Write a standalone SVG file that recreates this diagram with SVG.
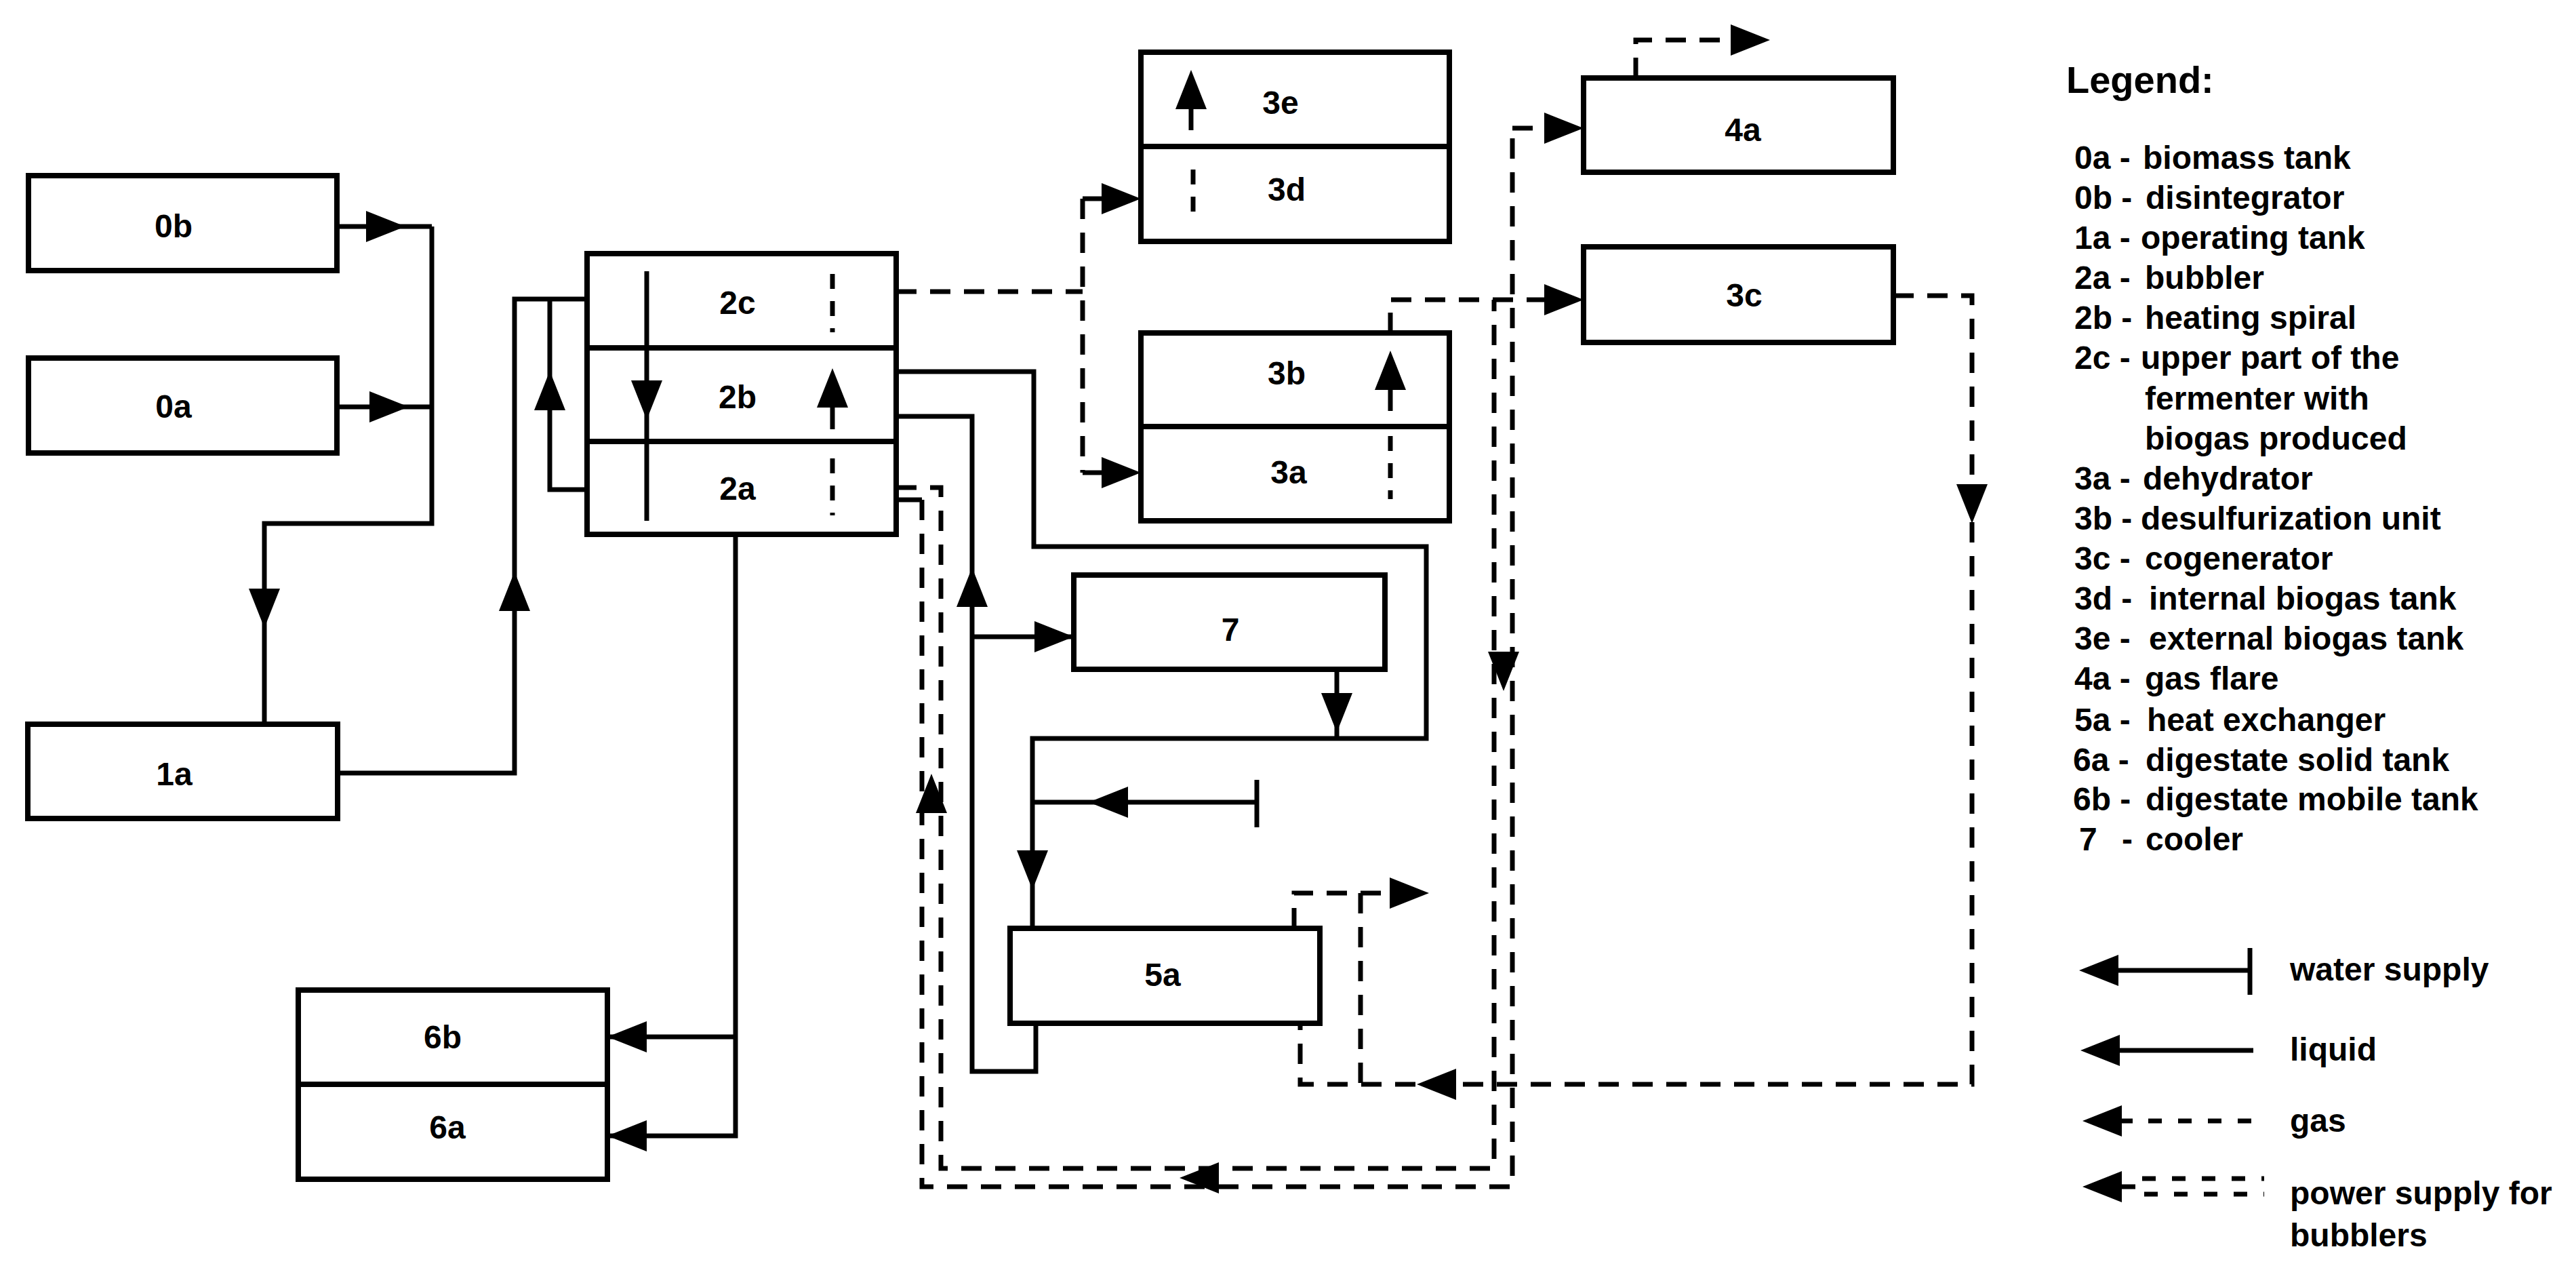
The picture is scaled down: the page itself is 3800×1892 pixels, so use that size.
<svg xmlns="http://www.w3.org/2000/svg" xmlns:xlink="http://www.w3.org/1999/xlink" width="3800" height="1892" viewBox="0 0 3800 1892">
<style>
.box{fill:#fff;stroke:#000;stroke-width:8}
.ln{fill:none;stroke:#000;stroke-width:7}
.gs{fill:none;stroke:#000;stroke-width:7;stroke-dasharray:30 20}
.sd{stroke-dasharray:22 18}
.lg{fill:none;stroke:#000;stroke-width:7;stroke-dasharray:20 24}
.t{font-family:"Liberation Sans",Arial,sans-serif;font-weight:bold;font-size:48px;fill:#000}
.c{text-anchor:middle}
.h{font-size:56px}
</style>
<defs>
<path id="ah" d="M0,0 L-58,-23 L-58,23 Z" fill="#000"/>
</defs>
<rect x="0" y="0" width="3800" height="1892" fill="#fff"/>

<g id="node-0b"><rect class="box" x="42" y="259" width="455" height="140"/><text class="t c" x="256" y="350">0b</text></g>
<g id="node-0a"><rect class="box" x="42" y="528" width="455" height="140"/><text class="t c" x="256" y="616">0a</text></g>
<g id="node-1a"><rect class="box" x="41" y="1068" width="457" height="139"/><text class="t c" x="257" y="1158">1a</text></g>
<g id="node-2c"><rect class="box" x="866" y="374" width="456" height="139"/><text class="t c" x="1088" y="463">2c</text></g>
<g id="node-2b"><rect class="box" x="866" y="513" width="456" height="138"/><text class="t c" x="1088" y="602">2b</text></g>
<g id="node-2a"><rect class="box" x="866" y="651" width="456" height="137"/><text class="t c" x="1088" y="737">2a</text></g>
<g id="node-3e"><rect class="box" x="1683" y="77" width="455" height="139"/><text class="t c" x="1889" y="168">3e</text></g>
<g id="node-3d"><rect class="box" x="1683" y="216" width="455" height="140"/><text class="t c" x="1898" y="296">3d</text></g>
<g id="node-3b"><rect class="box" x="1683" y="491" width="455" height="138"/><text class="t c" x="1898" y="567">3b</text></g>
<g id="node-3a"><rect class="box" x="1683" y="629" width="455" height="139"/><text class="t c" x="1901" y="713">3a</text></g>
<g id="node-4a"><rect class="box" x="2336" y="115" width="457" height="139"/><text class="t c" x="2571" y="208">4a</text></g>
<g id="node-3c"><rect class="box" x="2336" y="364" width="457" height="141"/><text class="t c" x="2573" y="452">3c</text></g>
<g id="node-7"><rect class="box" x="1584" y="848" width="459" height="139"/><text class="t c" x="1815" y="945">7</text></g>
<g id="node-5a"><rect class="box" x="1490" y="1369" width="457" height="140"/><text class="t c" x="1715" y="1454">5a</text></g>
<g id="node-6b"><rect class="box" x="440" y="1460" width="456" height="139"/><text class="t c" x="653" y="1546">6b</text></g>
<g id="node-6a"><rect class="box" x="440" y="1599" width="456" height="140"/><text class="t c" x="660" y="1679">6a</text></g>

<g id="connectors">
  <!-- liquid -->
  <path class="ln" d="M497,334 H637"/>
  <path class="ln" d="M497,600 H637"/>
  <path class="ln" d="M637,334 V772 H390 V1068"/>
  <path class="ln" d="M498,1140 H759 V441 H866"/>
  <path class="ln" d="M866,722 H811 V441"/>
  <path class="ln" d="M954,400 V768"/>
  <path class="ln" d="M1228,633 V560"/>
  <path class="ln" d="M1085,788 V1675 H896"/>
  <path class="ln" d="M1085,1529 H896"/>
  <path class="ln" d="M1322,548 H1525 V806 H2104 V1089 H1523 V1369"/>
  <path class="ln" d="M1322,614 H1434 V1580 H1528 V1509"/>
  <path class="ln" d="M1434,939 H1584"/>
  <path class="ln" d="M1972,987 V1089"/>
  <path class="ln" d="M1854,1183 H1523"/>
  <path class="ln" d="M1854,1150 V1220"/>
  <path class="ln" d="M1757,192 V120"/>
  <path class="ln" d="M2051,606 V535"/>
  <path class="ln" d="M1322,737 H1360"/>
  <use xlink:href="#ah" transform="translate(598,334)"/>
  <use xlink:href="#ah" transform="translate(603,600)"/>
  <use xlink:href="#ah" transform="translate(390,926) rotate(90)"/>
  <use xlink:href="#ah" transform="translate(759,843) rotate(-90)"/>
  <use xlink:href="#ah" transform="translate(811,547) rotate(-90)"/>
  <use xlink:href="#ah" transform="translate(954,619) rotate(90)"/>
  <use xlink:href="#ah" transform="translate(1228,543) rotate(-90)"/>
  <use xlink:href="#ah" transform="translate(896,1529) rotate(180)"/>
  <use xlink:href="#ah" transform="translate(896,1675) rotate(180)"/>
  <use xlink:href="#ah" transform="translate(1523,1312) rotate(90)"/>
  <use xlink:href="#ah" transform="translate(1434,837) rotate(-90)"/>
  <use xlink:href="#ah" transform="translate(1584,939)"/>
  <use xlink:href="#ah" transform="translate(1972,1080) rotate(90)"/>
  <use xlink:href="#ah" transform="translate(1606,1183) rotate(180)"/>
  <use xlink:href="#ah" transform="translate(1757,103) rotate(-90)"/>
  <use xlink:href="#ah" transform="translate(2051,517) rotate(-90)"/>

  <!-- gas -->
  <path class="gs" d="M1322,430 H1597"/>
  <path class="gs" d="M1597,293 V697"/>
  <path class="gs" d="M1597,293 H1630"/>
  <path class="gs" d="M1597,697 H1630"/>
  <path class="gs sd" d="M1228,404 V490"/>
  <path class="gs sd" d="M1228,676 V760"/>
  <path class="gs sd" d="M1760,250 V328"/>
  <path class="gs sd" d="M2051,643 V736"/>
  <path class="gs" d="M2051,491 V442 H2280"/>
  <path class="gs" d="M2231,189 H2280"/>
  <path class="gs" d="M2413,115 V59 H2560"/>
  <path class="gs" d="M2793,436 H2909 V1599 H1918 V1509"/>
  <path class="gs" d="M1909,1369 V1317 H2060"/>
  <path class="gs" d="M2007,1317 V1599"/>
  <use xlink:href="#ah" transform="translate(1683,293)"/>
  <use xlink:href="#ah" transform="translate(1683,697)"/>
  <use xlink:href="#ah" transform="translate(2336,442)"/>
  <use xlink:href="#ah" transform="translate(2336,189)"/>
  <use xlink:href="#ah" transform="translate(2611,59)"/>
  <use xlink:href="#ah" transform="translate(2909,772) rotate(90)"/>
  <use xlink:href="#ah" transform="translate(2090,1599) rotate(180)"/>
  <use xlink:href="#ah" transform="translate(2108,1317)"/>

  <!-- power supply for bubblers -->
  <path class="gs" d="M1360,737 V1750 H2231 V189"/>
  <path class="gs" d="M1322,719 H1388 V1723 H2204 V442"/>
  <use xlink:href="#ah" transform="translate(1374,1141) rotate(-90)"/>
  <use xlink:href="#ah" transform="translate(1740,1737) rotate(180)"/>
  <use xlink:href="#ah" transform="translate(2218,1019) rotate(90)"/>
</g>

<g id="legend">
  <text class="t h" x="3048" y="137">Legend:</text>
  <text class="t" x="3060" y="249">0a -</text><text class="t" x="3161" y="249">biomass tank</text>
  <text class="t" x="3060" y="308">0b -</text><text class="t" x="3165" y="308">disintegrator</text>
  <text class="t" x="3060" y="367">1a -</text><text class="t" x="3158" y="367">operating tank</text>
  <text class="t" x="3060" y="426">2a -</text><text class="t" x="3164" y="426">bubbler</text>
  <text class="t" x="3060" y="485">2b -</text><text class="t" x="3164" y="485">heating spiral</text>
  <text class="t" x="3060" y="544">2c -</text><text class="t" x="3158" y="544">upper part of the</text>
  <text class="t" x="3164" y="604">fermenter with</text>
  <text class="t" x="3164" y="663">biogas produced</text>
  <text class="t" x="3060" y="722">3a -</text><text class="t" x="3161" y="722">dehydrator</text>
  <text class="t" x="3060" y="781">3b -</text><text class="t" x="3158" y="781">desulfurization unit</text>
  <text class="t" x="3060" y="840">3c -</text><text class="t" x="3164" y="840">cogenerator</text>
  <text class="t" x="3060" y="899">3d -</text><text class="t" x="3170" y="899">internal biogas tank</text>
  <text class="t" x="3060" y="958">3e -</text><text class="t" x="3170" y="958">external biogas tank</text>
  <text class="t" x="3060" y="1017">4a -</text><text class="t" x="3164" y="1017">gas flare</text>
  <text class="t" x="3060" y="1078">5a -</text><text class="t" x="3167" y="1078">heat exchanger</text>
  <text class="t" x="3058" y="1137">6a -</text><text class="t" x="3165" y="1137">digestate solid tank</text>
  <text class="t" x="3058" y="1195">6b -</text><text class="t" x="3165" y="1195">digestate mobile tank</text>
  <text class="t" x="3067" y="1254">7</text><text class="t" x="3130" y="1254">-</text><text class="t" x="3165" y="1254">cooler</text>

  <path class="ln" d="M3110,1431 H3319"/>
  <path class="ln" d="M3319,1398 V1467"/>
  <use xlink:href="#ah" transform="translate(3067,1431) rotate(180)"/>
  <text class="t" x="3378" y="1446">water supply</text>

  <path class="ln" d="M3110,1549 H3324"/>
  <use xlink:href="#ah" transform="translate(3069,1549) rotate(180)"/>
  <text class="t" x="3378" y="1564">liquid</text>

  <path class="ln" d="M3110,1653 H3146"/>
  <path class="lg" d="M3169,1653 H3328"/>
  <use xlink:href="#ah" transform="translate(3072,1653) rotate(180)"/>
  <text class="t" x="3378" y="1669">gas</text>

  <path class="ln" d="M3110,1750 H3150"/>
  <path class="lg" d="M3160,1738 H3340"/>
  <path class="lg" d="M3163,1761 H3340"/>
  <use xlink:href="#ah" transform="translate(3072,1750) rotate(180)"/>
  <text class="t" x="3378" y="1776">power supply for</text>
  <text class="t" x="3378" y="1838">bubblers</text>
</g>
</svg>
